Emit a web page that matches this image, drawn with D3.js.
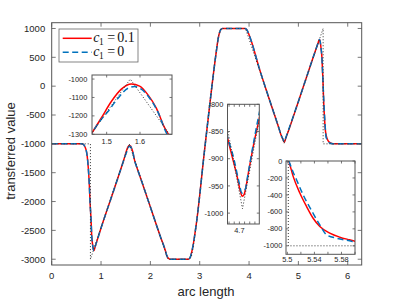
<!DOCTYPE html>
<html>
<head>
<meta charset="utf-8">
<script src="https://cdn.jsdelivr.net/npm/d3@7"></script>
<style>
  body { margin: 0; background: #fff; }
  svg { display: block; font-family: "Liberation Sans", Arial, sans-serif; }
</style>
</head>
<body>
<svg id="chart" width="399" height="299"></svg>
<script>
// Data: [arc length, transferred value]

// c1 = 0.1 (red, solid)
const redPts = [
  [0, -1000], [0.60, -1000], [0.628, -1004], [0.655, -1022], [0.675, -1055], [0.695, -1100],
  [0.709, -1150], [0.728, -1280], [0.743, -1432], [0.763, -1721], [0.777, -2010], [0.797, -2299],
  [0.811, -2588], [0.831, -2761], [0.845, -2830], [0.858, -2848], [0.875, -2800], [0.9, -2730],
  [1.0, -2460], [1.2, -1950], [1.4, -1440], [1.456, -1292], [1.484, -1211], [1.514, -1122],
  [1.544, -1055], [1.574, -1027], [1.599, -1038], [1.624, -1086], [1.649, -1158], [1.674, -1265],
  [1.696, -1330], [1.8, -1590], [2.0, -2095], [2.2, -2600], [2.30, -2840], [2.33, -2930],
  [2.36, -2980], [2.40, -3000], [2.77, -3000], [2.81, -2960], [2.85, -2830], [2.94, -2329],
  [3.09, -1172], [3.245, -17], [3.33, 560], [3.38, 849], [3.42, 970], [3.46, 1000],
  [3.92, 1000], [3.96, 970], [4.0, 890], [4.05, 770], [4.2, 330], [4.4, -200], [4.6, -715],
  [4.654, -861], [4.672, -896], [4.691, -932], [4.704, -960], [4.711, -969], [4.718, -966],
  [4.726, -950], [4.736, -923], [4.755, -874], [4.777, -826], [4.8, -772], [5.0, -265],
  [5.2, 245], [5.35, 627], [5.40, 750], [5.424, 809], [5.44, 780], [5.46, 650], [5.475, 520],
  [5.49, 250], [5.5024, -8], [5.5087, -184], [5.5186, -380], [5.5284, -537], [5.5381, -675],
  [5.548, -772], [5.5627, -851], [5.5774, -898], [5.592, -929], [5.60, -945], [5.65, -985],
  [5.7, -998], [5.8, -1000], [6.2832, -1000]
];

// c1 = 0 (blue, dashed)
const bluePts = [
  [0, -1000], [0.60, -1000], [0.628, -1004], [0.655, -1022], [0.675, -1055], [0.695, -1100],
  [0.709, -1150], [0.728, -1280], [0.743, -1432], [0.763, -1721], [0.777, -2010], [0.797, -2299],
  [0.811, -2588], [0.831, -2761], [0.845, -2830], [0.858, -2848], [0.875, -2800], [0.9, -2730],
  [1.0, -2460], [1.2, -1950], [1.4, -1440], [1.456, -1292], [1.48, -1228], [1.504, -1176],
  [1.534, -1104], [1.564, -1050], [1.584, -1041], [1.604, -1055], [1.629, -1104], [1.654, -1180],
  [1.679, -1292], [1.696, -1335], [1.8, -1590], [2.0, -2095], [2.2, -2600], [2.30, -2840],
  [2.33, -2930], [2.36, -2980], [2.40, -3000], [2.77, -3000], [2.81, -2960], [2.85, -2830],
  [2.94, -2329], [3.09, -1172], [3.245, -17], [3.33, 560], [3.38, 849], [3.42, 970], [3.46, 1000],
  [3.92, 1000], [3.96, 970], [4.0, 890], [4.05, 770], [4.2, 330], [4.4, -200], [4.6, -715],
  [4.654, -859], [4.678, -899], [4.698, -942], [4.710, -963], [4.723, -956], [4.733, -929],
  [4.749, -886], [4.768, -837], [4.777, -816], [4.8, -760], [5.0, -265], [5.2, 245],
  [5.35, 627], [5.40, 750], [5.424, 809], [5.44, 780], [5.46, 650], [5.475, 520], [5.49, 250],
  [5.5024, -3], [5.508, -120], [5.5137, -224], [5.5234, -400], [5.538, -616], [5.548, -753],
  [5.558, -870], [5.5726, -910], [5.592, -941], [5.60, -955], [5.65, -990], [5.7, -999],
  [5.8, -1000], [6.2832, -1000]
];

// exact solution (black, dotted)
const exactPts = [
  [0, -1000], [0.785, -1000], [0.785, -3000], [1.5708, -1000], [2.356, -3000], [2.79, -3000],
  [2.83, -2960], [2.87, -2780], [2.94, -2350], [3.09, -1172], [3.245, -17], [3.33, 580],
  [3.38, 870], [3.43, 990], [3.46, 1000], [3.927, 1000], [4.712, -992], [5.5014, 1000],
  [5.5014, -1000], [6.2832, -1000]
];

// ticks
const mainXTicks = [0, 1, 2, 3, 4, 5, 6];
const mainYTicks = [-3000, -2500, -2000, -1500, -1000, -500, 0, 500, 1000];
const in1XTicks = [1.5, 1.6];
const in1YTicks = [-1300, -1200, -1100, -1000];
const in2XTicks = [4.66, 4.68, 4.7, 4.72, 4.74, 4.76];
const in2XLabels = [4.7];
const in2YTicks = [-1000, -950, -900, -850, -800];
const in3XTicks = [5.5, 5.52, 5.54, 5.56, 5.58, 5.6];
const in3XLabels = [5.5, 5.54, 5.58];
const in3YTicks = [-1000, -800, -600, -400, -200, 0];

const RED = "#ff0000";
const BLUE = "#0072bd";
const AXIS = "#555";
const TEXT = "#262626";

const svg = d3.select("#chart");

// draws box, inward ticks on all four sides and tick labels
const drawPanel = (g, x, y, opt) => {
  const [x0, x1] = x.range();
  const [y0, y1] = y.range(); // y0 bottom, y1 top
  const t = opt.tick;
  opt.xTicks.forEach(v => {
    g.append("line").attr("x1", x(v)).attr("x2", x(v)).attr("y1", y0).attr("y2", y0 - t)
      .attr("stroke", AXIS).attr("stroke-width", 0.8);
    g.append("line").attr("x1", x(v)).attr("x2", x(v)).attr("y1", y1).attr("y2", y1 + t)
      .attr("stroke", AXIS).attr("stroke-width", 0.8);
  });
  opt.yTicks.forEach(v => {
    g.append("line").attr("x1", x0).attr("x2", x0 + t).attr("y1", y(v)).attr("y2", y(v))
      .attr("stroke", AXIS).attr("stroke-width", 0.8);
    g.append("line").attr("x1", x1).attr("x2", x1 - t).attr("y1", y(v)).attr("y2", y(v))
      .attr("stroke", AXIS).attr("stroke-width", 0.8);
  });
  g.append("rect")
    .attr("x", x0).attr("y", y1).attr("width", x1 - x0).attr("height", y0 - y1)
    .attr("fill", "none").attr("stroke", AXIS).attr("stroke-width", 1);

  (opt.xLabels || opt.xTicks).forEach(v => {
    g.append("text").attr("x", x(v)).attr("y", y0 + opt.xOff)
      .attr("text-anchor", "middle").attr("font-size", opt.fs).attr("fill", TEXT)
      .text(String(v));
  });
  (opt.yLabels || opt.yTicks).forEach(v => {
    g.append("text").attr("x", x0 - opt.yOff).attr("y", y(v)).attr("dy", "0.35em")
      .attr("text-anchor", "end").attr("font-size", opt.fs).attr("fill", TEXT)
      .text(String(v));
  });
};

// draws the three series inside a clipped group
const drawCurves = (g, x, y, id) => {
  const [x0, x1] = x.range();
  const [y0, y1] = y.range();
  svg.append("clipPath").attr("id", id)
    .append("rect").attr("x", x0).attr("y", y1).attr("width", x1 - x0).attr("height", y0 - y1);
  const c = g.append("g").attr("clip-path", `url(#${id})`);
  const smooth = d3.line().x(d => x(d[0])).y(d => y(d[1])).curve(d3.curveMonotoneX);
  const line = d3.line().x(d => x(d[0])).y(d => y(d[1]));
  c.append("path").datum(redPts).attr("d", smooth)
    .attr("fill", "none").attr("stroke", RED).attr("stroke-width", 1.5);
  c.append("path").datum(bluePts).attr("d", smooth)
    .attr("fill", "none").attr("stroke", BLUE).attr("stroke-width", 1.5)
    .attr("stroke-dasharray", "6,3.5");
  c.append("path").datum(exactPts).attr("d", line)
    .attr("fill", "none").attr("stroke", "#333").attr("stroke-width", 1)
    .attr("stroke-dasharray", "1,2");
};

// main axes
const x = d3.scaleLinear().domain([0, 2 * Math.PI]).range([51.7, 361.7]);
const y = d3.scaleLinear().domain([-3100, 1100]).range([265, 22.7]);
const main = svg.append("g");
drawCurves(main, x, y, "clip-main");
drawPanel(main, x, y, {
  xTicks: mainXTicks, yTicks: mainYTicks, tick: 4, fs: "9.5px", xOff: 13.5, yOff: 6.5
});

svg.append("text")
  .attr("x", 206).attr("y", 295.5).attr("text-anchor", "middle")
  .attr("font-size", "13px").attr("fill", TEXT).text("arc length");
svg.append("text")
  .attr("transform", "translate(15,151) rotate(-90)").attr("text-anchor", "middle")
  .attr("font-size", "13px").attr("fill", TEXT).text("transferred value");

// insets
const insets = [
  { xd: [1.456, 1.696], xr: [92, 172], yd: [-1300, -978], yr: [134.3, 75],
    xTicks: in1XTicks, yTicks: in1YTicks, xOff: 9.2, yOff: 4.7 },
  { xd: [4.654, 4.777], xr: [227.5, 259.3], yd: [-1020, -800], yr: [224, 104.3],
    xTicks: in2XTicks, xLabels: in2XLabels, yTicks: in2YTicks, xOff: 8.5, yOff: 4.2 },
  { xd: [5.498, 5.6], xr: [286, 355], yd: [-1100, 0], yr: [254.3, 161],
    xTicks: in3XTicks, xLabels: in3XLabels, yTicks: in3YTicks, xOff: 7.2, yOff: 3.7 }
];

insets.forEach((p, i) => {
  const ix = d3.scaleLinear().domain(p.xd).range(p.xr);
  const iy = d3.scaleLinear().domain(p.yd).range(p.yr);
  const g = svg.append("g");
  g.append("rect")
    .attr("x", p.xr[0]).attr("y", p.yr[1])
    .attr("width", p.xr[1] - p.xr[0]).attr("height", p.yr[0] - p.yr[1])
    .attr("fill", "#fff");
  drawCurves(g, ix, iy, "clip-in" + i);
  drawPanel(g, ix, iy, {
    xTicks: p.xTicks, xLabels: p.xLabels, yTicks: p.yTicks,
    tick: 2.5, fs: "7.4px", xOff: p.xOff, yOff: p.yOff
  });
});

// legend
const leg = svg.append("g");
leg.append("rect").attr("x", 59).attr("y", 29).attr("width", 79).attr("height", 33)
  .attr("fill", "#fff").attr("stroke", "#666").attr("stroke-width", 0.8);
const legItems = [
  { color: RED, dash: null, value: "0.1", ly: 38.3, ty: 41.7 },
  { color: BLUE, dash: "6,3.5", value: "0", ly: 52.3, ty: 56.3 }
];
legItems.forEach(d => {
  leg.append("line").attr("x1", 62.7).attr("x2", 91.7).attr("y1", d.ly).attr("y2", d.ly)
    .attr("stroke", d.color).attr("stroke-width", 1.5)
    .attr("stroke-dasharray", d.dash);
  const tf = "'Liberation Serif', 'DejaVu Serif', serif";
  leg.append("text").attr("x", 93.2).attr("y", d.ty).attr("font-family", tf)
    .attr("font-style", "italic").attr("font-size", "14px").attr("fill", "#111").text("c");
  leg.append("text").attr("x", 99).attr("y", d.ty + 2.8).attr("font-family", tf)
    .attr("font-size", "9.5px").attr("fill", "#111").text("1");
  leg.append("text").attr("x", 107.2).attr("y", d.ty).attr("font-family", tf)
    .attr("font-size", "14px").attr("fill", "#111").text("=");
  leg.append("text").attr("x", 117.3).attr("y", d.ty).attr("font-family", tf)
    .attr("font-size", "14px").attr("fill", "#111").text(d.value);
});
</script>
</body>
</html>
